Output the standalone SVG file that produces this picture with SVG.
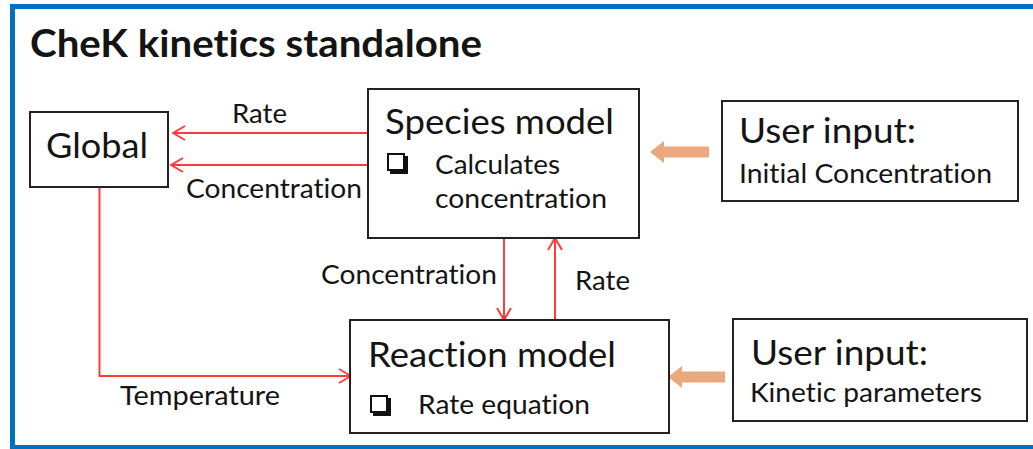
<svg xmlns="http://www.w3.org/2000/svg" width="1033" height="449" viewBox="0 0 1033 449">
  <style>
    .box { fill: #ffffff; stroke: #222222; stroke-width: 2; }
    .txt { font-family: Lato, "Open Sans", sans-serif; fill: #141414; font-variant-ligatures: none; }
    .title { font-size: 38px; font-weight: bold; }
    .head { font-size: 35px; }
    .lbl { font-size: 26.5px; }
    .link { fill: none; stroke: #ff3b3b; stroke-width: 2; }
    .input { fill: #eaa87e; }
    .chk { fill: none; stroke: #111111; stroke-width: 2; }
    .chkshadow { fill: none; stroke: #111111; stroke-width: 3; }
  </style>
  <defs>
    <marker id="open" viewBox="0 0 14 16" refX="13" refY="8" markerWidth="14" markerHeight="16" markerUnits="userSpaceOnUse" orient="auto">
      <polyline points="1,1 13,8 1,15" fill="none" stroke="#ff3b3b" stroke-width="2"/>
    </marker>
  </defs>

  <rect x="0" y="0" width="1033" height="449" fill="#ffffff"/>
  <!-- outer frame -->
  <rect x="12.5" y="6.5" width="1030" height="441" fill="none" stroke="#0070c0" stroke-width="5"/>

  <text class="txt title" x="30" y="57" textLength="452" lengthAdjust="spacingAndGlyphs">CheK kinetics standalone</text>

  <!-- connectors -->
  <g id="connectors">
    <line class="link" x1="368" y1="133" x2="173" y2="133" marker-end="url(#open)"/>
    <line class="link" x1="371" y1="165" x2="171" y2="165" marker-end="url(#open)"/>
    <polyline class="link" points="99.5,187 99.5,376 351,376" marker-end="url(#open)"/>
    <line class="link" x1="504" y1="238" x2="504" y2="320" marker-end="url(#open)"/>
    <line class="link" x1="555" y1="320" x2="555" y2="238" marker-end="url(#open)"/>
    <!-- user input block arrows -->
    <polygon class="input" points="709,146.5 664,146.5 664,141 650,152 664,163 664,157.5 709,157.5"/>
    <polygon class="input" points="725,371.5 682,371.5 682,366 668,377 682,388 682,382.5 725,382.5"/>

    <text class="txt lbl" x="232" y="123" textLength="55" lengthAdjust="spacingAndGlyphs">Rate</text>
    <text class="txt lbl" x="186" y="198" textLength="176" lengthAdjust="spacingAndGlyphs">Concentration</text>
    <text class="txt lbl" x="321" y="284" textLength="176" lengthAdjust="spacingAndGlyphs">Concentration</text>
    <text class="txt lbl" x="575" y="290" textLength="55" lengthAdjust="spacingAndGlyphs">Rate</text>
    <text class="txt lbl" x="120" y="405" textLength="160" lengthAdjust="spacingAndGlyphs">Temperature</text>
  </g>

  <g id="global">
    <rect class="box" x="30" y="112" width="138" height="75"/>
    <text class="txt head" x="46" y="158" textLength="102" lengthAdjust="spacingAndGlyphs">Global</text>
  </g>

  <g id="species-model">
    <rect class="box" x="368" y="89" width="271" height="149"/>
    <text class="txt head" x="385" y="134" textLength="229" lengthAdjust="spacingAndGlyphs">Species model</text>
    <rect class="chk" x="388" y="154" width="16" height="16"/>
    <polyline class="chkshadow" points="406.5,156 406.5,172.5 390,172.5"/>
    <text class="txt lbl" x="435" y="174" textLength="125" lengthAdjust="spacingAndGlyphs">Calculates</text>
    <text class="txt lbl" x="435" y="208" textLength="172" lengthAdjust="spacingAndGlyphs">concentration</text>
  </g>

  <g id="user-input-concentration">
    <rect class="box" x="722" y="101" width="296" height="100"/>
    <text class="txt head" x="739" y="143" textLength="177" lengthAdjust="spacingAndGlyphs">User input:</text>
    <text class="txt lbl" x="739" y="183" textLength="253" lengthAdjust="spacingAndGlyphs">Initial Concentration</text>
  </g>

  <g id="reaction-model">
    <rect class="box" x="350" y="320" width="319" height="113"/>
    <text class="txt head" x="368" y="367" textLength="248" lengthAdjust="spacingAndGlyphs">Reaction model</text>
    <rect class="chk" x="371" y="396" width="16" height="16"/>
    <polyline class="chkshadow" points="389.5,398 389.5,414.5 373,414.5"/>
    <text class="txt lbl" x="418" y="414" textLength="172" lengthAdjust="spacingAndGlyphs">Rate equation</text>
  </g>

  <g id="user-input-kinetics">
    <rect class="box" x="733" y="319" width="294" height="102"/>
    <text class="txt head" x="751" y="365" textLength="177" lengthAdjust="spacingAndGlyphs">User input:</text>
    <text class="txt lbl" x="750" y="402" textLength="232" lengthAdjust="spacingAndGlyphs">Kinetic parameters</text>
  </g>
</svg>
